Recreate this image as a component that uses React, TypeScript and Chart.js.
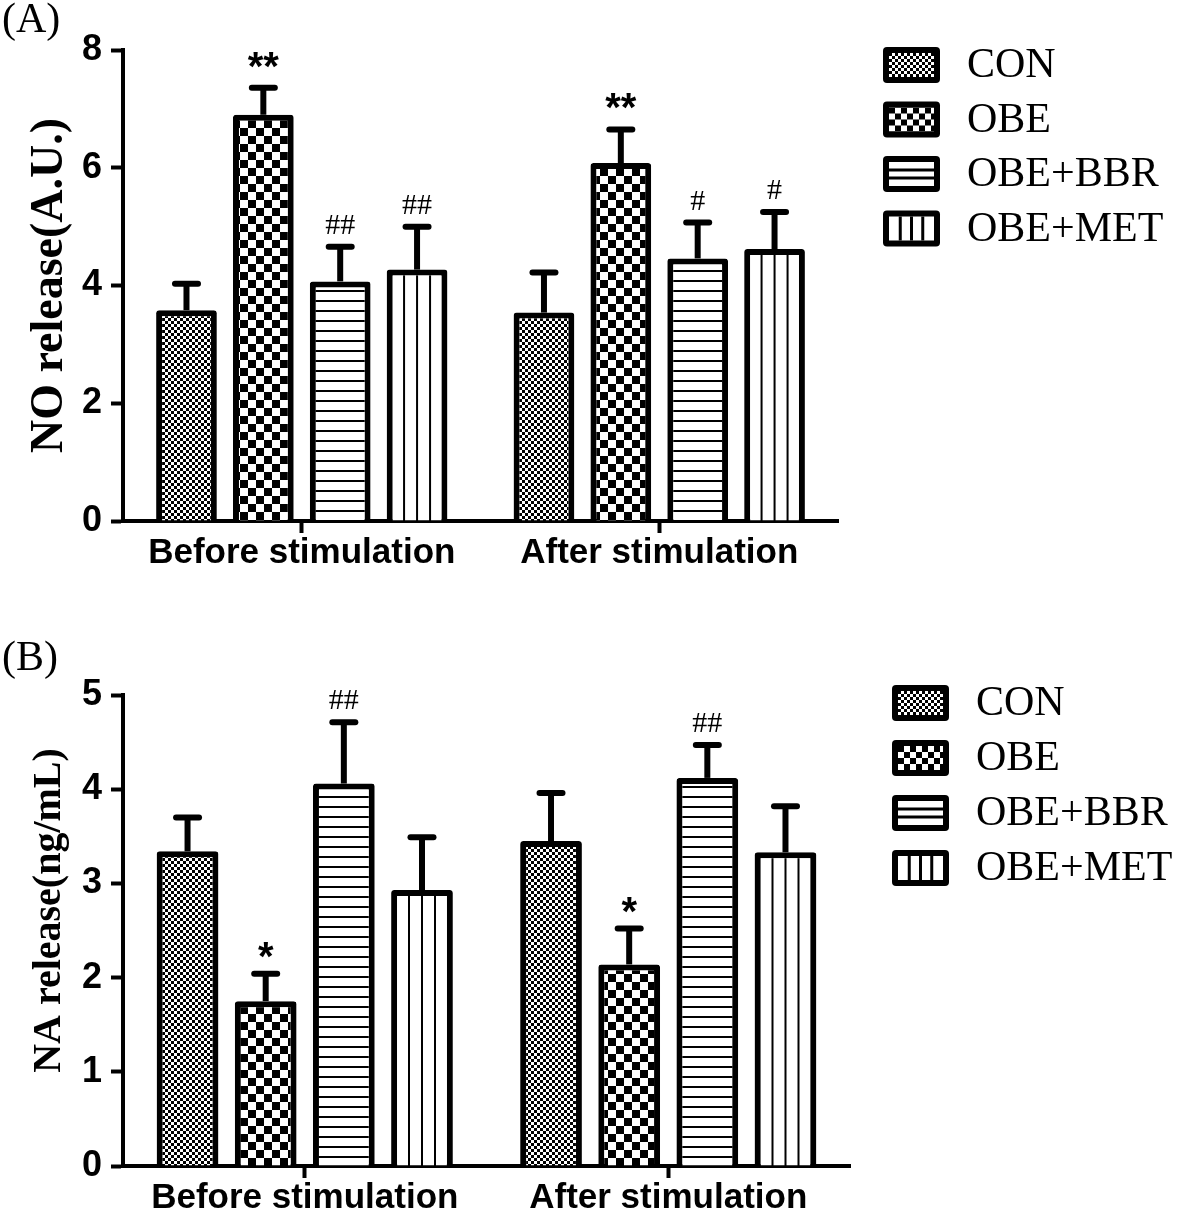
import { useEffect, useRef } from 'react';
import { Chart, registerables } from 'chart.js';

Chart.register(...registerables);

// ---------- data ----------
const categories = ['Before stimulation', 'After stimulation'];
const seriesNames = ['CON', 'OBE', 'OBE+BBR', 'OBE+MET'];

// Panel A: NO release (A.U.)
const noCON = [3.58, 3.54];
const noOBE = [6.9, 6.08];
const noBBR = [4.07, 4.46];
const noMET = [4.27, 4.62];
const noCONErr = [0.45, 0.68];
const noOBEErr = [0.46, 0.57];
const noBBRErr = [0.59, 0.61];
const noMETErr = [0.73, 0.63];
const noCONSig = ['', ''];
const noOBESig = ['**', '**'];
const noBBRSig = ['##', '#'];
const noMETSig = ['##', '#'];
const noTicks = [0, 2, 4, 6, 8];

// Panel B: NA release (ng/mL)
const naCON = [3.34, 3.45];
const naOBE = [1.75, 2.14];
const naBBR = [4.06, 4.12];
const naMET = [2.93, 3.33];
const naCONErr = [0.36, 0.51];
const naOBEErr = [0.29, 0.38];
const naBBRErr = [0.65, 0.35];
const naMETErr = [0.56, 0.49];
const naCONSig = ['', ''];
const naOBESig = ['*', '*'];
const naBBRSig = ['##', '##'];
const naMETSig = ['', ''];
const naTicks = [0, 1, 2, 3, 4, 5];

// ---------- styles ----------
const SANS = '"Liberation Sans", Arial, sans-serif';
const SERIF = '"Liberation Serif", "Times New Roman", serif';
const BAR_PCT = 0.79;
const CAT_PCT = 0.86;

function makeTile(w: number, h: number, draw: (g: CanvasRenderingContext2D) => void) {
  const c = document.createElement('canvas');
  c.width = w;
  c.height = h;
  const g = c.getContext('2d')!;
  g.fillStyle = '#fff';
  g.fillRect(0, 0, w, h);
  g.fillStyle = '#000';
  draw(g);
  return c;
}

let tiles: Record<string, HTMLCanvasElement> | null = null;
function getTiles() {
  if (!tiles) {
    tiles = {
      con: makeTile(6, 6, (g) => {
        g.fillRect(0, 0, 3, 3);
        g.fillRect(3, 3, 3, 3);
      }),
      obe: makeTile(16, 16, (g) => {
        g.fillRect(0, 0, 8, 8);
        g.fillRect(8, 8, 8, 8);
      }),
      bbr: makeTile(10, 10, (g) => {
        g.fillRect(0, 0, 10, 2);
      }),
      met: makeTile(13, 10, (g) => {
        g.fillRect(0, 0, 2, 10);
      }),
    };
  }
  return tiles;
}

function barCenter(c: any) {
  const xs = c.chart.scales?.x;
  if (!xs || !xs.width || c.dataIndex === undefined) return null;
  const catW = xs.width / categories.length;
  return xs.getPixelForValue(c.dataIndex) + (c.datasetIndex - 1.5) * (catW * CAT_PCT) / 4;
}

const fillCON = (c: any) => c.chart.ctx.createPattern(getTiles().con, 'repeat');
const fillOBE = (c: any) => c.chart.ctx.createPattern(getTiles().obe, 'repeat');
const fillBBR = (c: any) => c.chart.ctx.createPattern(getTiles().bbr, 'repeat');
const fillMET = (c: any) => {
  const p = c.chart.ctx.createPattern(getTiles().met, 'repeat');
  const cx = barCenter(c);
  if (p && cx !== null) p.setTransform(new DOMMatrix().translate(cx - 1, 0));
  return p;
};
const fills = [fillCON, fillOBE, fillBBR, fillMET];

// ---------- plugins ----------
const errorBarPlugin = {
  id: 'errorBars',
  afterDatasetsDraw(chart: any) {
    const { ctx } = chart;
    const y = chart.scales.y;
    chart.data.datasets.forEach((ds: any, i: number) => {
      const meta = chart.getDatasetMeta(i);
      meta.data.forEach((bar: any, j: number) => {
        const v = ds.data[j];
        const e = ds.errors[j];
        const yTop = y.getPixelForValue(v + e);
        ctx.save();
        ctx.strokeStyle = '#000';
        ctx.lineWidth = 6;
        ctx.lineCap = 'butt';
        ctx.beginPath();
        ctx.moveTo(bar.x, bar.y);
        ctx.lineTo(bar.x, yTop);
        ctx.stroke();
        ctx.lineCap = 'round';
        ctx.beginPath();
        ctx.moveTo(bar.x - 11.5, yTop);
        ctx.lineTo(bar.x + 11.5, yTop);
        ctx.stroke();
        const s = ds.sig[j];
        if (s) {
          ctx.fillStyle = '#000';
          ctx.textAlign = 'center';
          ctx.textBaseline = 'alphabetic';
          if (s.startsWith('*')) {
            ctx.font = `bold 40px ${SANS}`;
            ctx.fillText(s, bar.x, yTop - (s.length > 1 ? 8 : 4));
          } else {
            ctx.font = `30px ${SERIF}`;
            ctx.fillText(s, bar.x, yTop - 13);
          }
        }
        ctx.restore();
      });
    });
  },
};

const patternLegendPlugin = {
  id: 'patternLegend',
  afterDraw(chart: any, _args: any, opts: any) {
    const { ctx } = chart;
    const t = getTiles();
    const bw = 57;
    const bh = 36;
    const bwid = 6;
    chart.data.datasets.forEach((ds: any, i: number) => {
      const x = opts.x;
      const y = opts.y + i * opts.gap;
      ctx.save();
      ctx.fillStyle = '#000';
      ctx.beginPath();
      ctx.roundRect(x, y, bw, bh, 4);
      ctx.fill();
      const ix = x + bwid;
      const iy = y + bwid;
      const iw = bw - 2 * bwid;
      const ih = bh - 2 * bwid;
      if (i === 0 || i === 1) {
        const p = ctx.createPattern(i === 0 ? t.con : t.obe, 'repeat');
        p.setTransform(new DOMMatrix().translate(ix, iy).scale(i === 1 ? 0.75 : 1));
        ctx.fillStyle = p;
        ctx.fillRect(ix, iy, iw, ih);
      } else {
        ctx.fillStyle = '#fff';
        ctx.fillRect(ix, iy, iw, ih);
        ctx.fillStyle = '#000';
        if (i === 2) {
          for (let k = 1; k < 3; k++) ctx.fillRect(ix, iy + (ih * k) / 3 - 1.5, iw, 3);
        } else {
          for (let k = 1; k < 4; k++) ctx.fillRect(ix + (iw * k) / 4 - 1.5, iy, 3, ih);
        }
      }
      ctx.fillStyle = '#000';
      ctx.font = `42px ${SERIF}`;
      ctx.textAlign = 'left';
      ctx.textBaseline = 'middle';
      ctx.fillText(ds.label, x + bw + 27, y + bh / 2 + 1);
      ctx.restore();
    });
  },
};

// ---------- chart ----------
type PanelProps = {
  tag: string;
  yTitle: string;
  titleSize: number;
  yMax: number;
  yTicks: number[];
  values: number[][];
  errors: number[][];
  sigs: string[][];
  width: number;
  height: number;
  padding: { left: number; right: number; top: number; bottom: number };
  tagPad: { top: number; bottom: number };
  yTitlePad: { top: number; bottom: number };
  legend: { x: number; y: number; gap: number };
};

function Panel(p: PanelProps) {
  const ref = useRef<HTMLCanvasElement | null>(null);
  useEffect(() => {
    if (!ref.current) return;
    const datasets = seriesNames.map((name, i) => ({
      label: name,
      data: p.values[i],
      errors: p.errors[i],
      sig: p.sigs[i],
      backgroundColor: fills[i],
      borderColor: '#000',
      borderWidth: 6,
      borderRadius: 3,
      barPercentage: BAR_PCT,
      categoryPercentage: CAT_PCT,
    }));
    const chart = new Chart(ref.current, {
      type: 'bar',
      data: { labels: categories, datasets: datasets as any },
      plugins: [errorBarPlugin, patternLegendPlugin],
      options: {
        animation: false,
        responsive: false,
        layout: { padding: p.padding },
        plugins: {
          legend: { display: false },
          tooltip: { enabled: false },
          title: {
            display: true,
            text: p.tag,
            align: 'start',
            color: '#000',
            font: { family: SERIF, size: 42, weight: 'normal', lineHeight: 1 },
            padding: p.tagPad,
          },
          patternLegend: p.legend,
        } as any,
        scales: {
          x: {
            grid: {
              display: true,
              drawOnChartArea: false,
              drawTicks: true,
              tickLength: 12,
              tickWidth: 4,
              tickColor: '#000',
              offset: false,
              color: '#000',
            },
            border: { display: true, color: '#000', width: 4 },
            ticks: {
              color: '#000',
              font: { family: SANS, size: 35, weight: 'bold', lineHeight: 1 },
              padding: 3,
              maxRotation: 0,
              autoSkip: false,
            },
          },
          y: {
            min: 0,
            max: p.yMax,
            afterBuildTicks: (scale: any) => {
              scale.ticks = p.yTicks.map((v) => ({ value: v }));
            },
            ticks: {
              color: '#000',
              font: { family: SANS, size: 36, weight: 'bold', lineHeight: 1.2 },
              padding: 9,
            },
            grid: {
              display: true,
              drawOnChartArea: false,
              drawTicks: true,
              tickLength: 12,
              tickWidth: 4,
              tickColor: '#000',
              color: '#000',
            },
            border: { display: true, color: '#000', width: 4 },
            title: {
              display: true,
              text: p.yTitle,
              color: '#000',
              font: { family: SERIF, size: p.titleSize, weight: 'bold', lineHeight: 1 },
              padding: p.yTitlePad,
            },
          },
        },
      } as any,
    });
    return () => chart.destroy();
  }, []);
  return (
    <canvas
      ref={ref}
      width={p.width}
      height={p.height}
      style={{ display: 'block', width: p.width, height: p.height }}
    />
  );
}

export default function App() {
  useEffect(() => {
    document.body.style.margin = '0';
  }, []);
  return (
    <div style={{ width: 1180, background: '#fff' }}>
      <Panel
        tag="(A)"
        yTitle="NO release(A.U.)"
        titleSize={46}
        yMax={8}
        yTicks={noTicks}
        values={[noCON, noOBE, noBBR, noMET]}
        errors={[noCONErr, noOBEErr, noBBRErr, noMETErr]}
        sigs={[noCONSig, noOBESig, noBBRSig, noMETSig]}
        width={1180}
        height={606}
        padding={{ left: 2, right: 342, top: 0, bottom: 32 }}
        tagPad={{ top: 0, bottom: 8 }}
        yTitlePad={{ top: 25, bottom: 0 }}
        legend={{ x: 883, y: 47, gap: 54.5 }}
      />
      <Panel
        tag="(B)"
        yTitle="    NA release(ng/mL)"
        titleSize={40}
        yMax={5}
        yTicks={naTicks}
        values={[naCON, naOBE, naBBR, naMET]}
        errors={[naCONErr, naOBEErr, naBBRErr, naMETErr]}
        sigs={[naCONSig, naOBESig, naBBRSig, naMETSig]}
        width={1180}
        height={613}
        padding={{ left: 2, right: 330, top: 0, bottom: 0 }}
        tagPad={{ top: 32, bottom: 15 }}
        yTitlePad={{ top: 28, bottom: 3 }}
        legend={{ x: 892, y: 79, gap: 55 }}
      />
    </div>
  );
}
